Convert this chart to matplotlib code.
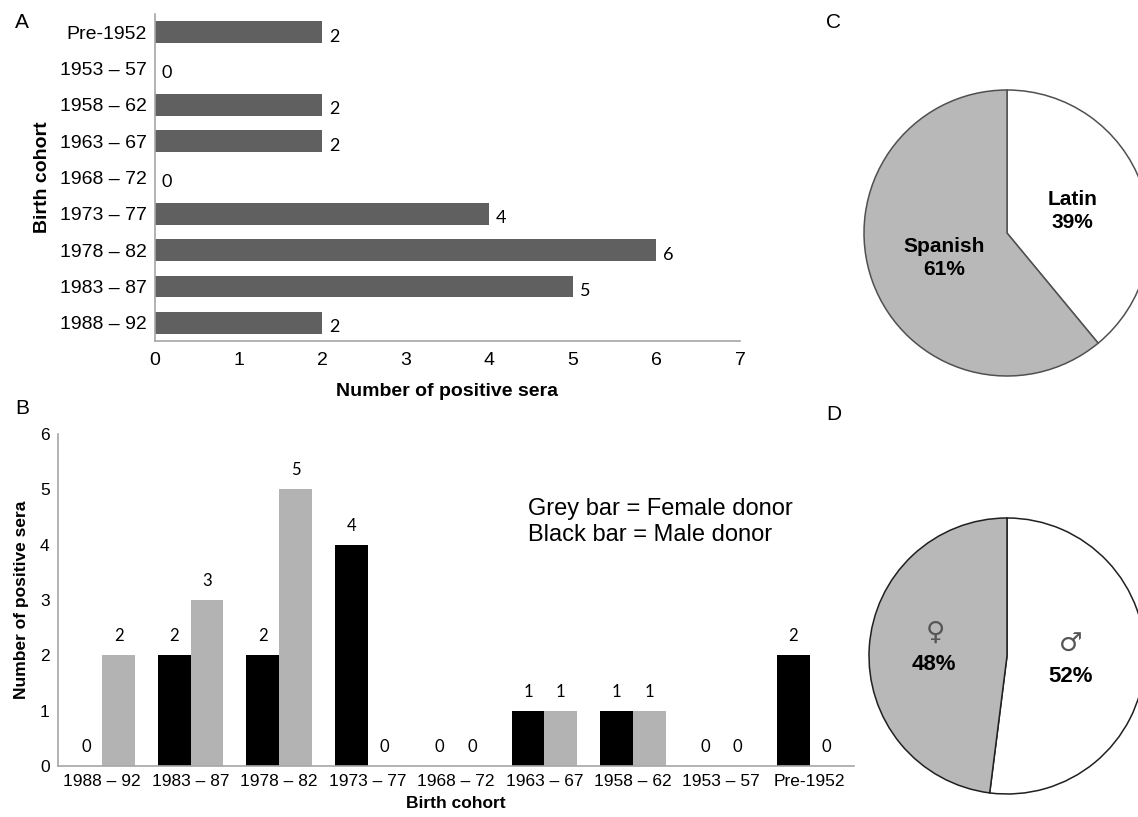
import matplotlib
matplotlib.use('Agg')
import matplotlib.pyplot as plt
import numpy as np

plt.rcParams['font.family'] = ['Liberation Sans', 'DejaVu Sans']

# Panel A data (top to bottom)
cohortes_a = ['Pre-1952', '1953 – 57', '1958 – 62', '1963 – 67', '1968 – 72',
              '1973 – 77', '1978 – 82', '1983 – 87', '1988 – 92']
positivos_a = [2, 0, 2, 2, 0, 4, 6, 5, 2]

# Panel B data (left to right)
cohortes_b = ['1988 – 92', '1983 – 87', '1978 – 82', '1973 – 77', '1968 – 72',
              '1963 – 67', '1958 – 62', '1953 – 57', 'Pre-1952']
hombres = [0, 2, 2, 4, 0, 1, 1, 0, 2]
mujeres = [2, 3, 5, 0, 0, 1, 1, 0, 0]

# Panel C / D data
origen_labels = ['Latin', 'Spanish']
origen_pct = [39, 61]
sexo_simbolos = ['♂', '♀']
sexo_pct = [52, 48]

gris_eje = '#a6a6a6'
W, H = 1138, 817
fig = plt.figure(figsize=(W / 100, H / 100), dpi=100)


def caja(x0, y0, x1, y1):
    # pixel box -> figure fraction
    return [x0 / W, 1 - y1 / H, (x1 - x0) / W, (y1 - y0) / H]


# ---------- A ----------
axA = fig.add_axes(caja(155, 14, 740, 341))
y = np.arange(len(cohortes_a))
axA.barh(y, positivos_a, height=0.6, color='#606060')
axA.set_ylim(len(cohortes_a) - 0.5, -0.5)
axA.set_xlim(0, 7)
axA.set_yticks(y)
axA.set_yticklabels(cohortes_a, fontsize=14)
axA.set_xticks(range(8))
axA.tick_params(axis='both', length=0, labelsize=14)
axA.tick_params(axis='y', pad=6)
axA.tick_params(axis='x', pad=8)
for s in ['top', 'right']:
    axA.spines[s].set_visible(False)
for s in ['left', 'bottom']:
    axA.spines[s].set_color(gris_eje)
    axA.spines[s].set_linewidth(1.2)
for yi, v in zip(y, positivos_a):
    axA.text(v + 0.08, yi + 0.12, str(v), va='center', ha='left', fontsize=13,
             family=['Lato', 'DejaVu Sans'])
axA.set_xlabel('Number of positive sera', fontsize=14, fontweight='bold', labelpad=10)
axA.set_ylabel('Birth cohort', fontsize=14, fontweight='bold', labelpad=6)
fig.text(15 / W, 1 - 22 / H, 'A', fontsize=15, va='center')

# ---------- B ----------
axB = fig.add_axes(caja(58, 434, 854, 766))
x = np.arange(len(cohortes_b))
ancho = 0.37
axB.bar(x - ancho / 2, hombres, width=ancho, color='black')
axB.bar(x + ancho / 2, mujeres, width=ancho, color='#b3b3b3')
axB.set_xlim(-0.5, len(cohortes_b) - 0.5)
axB.set_ylim(0, 6)
axB.set_xticks(x)
axB.set_xticklabels(cohortes_b, fontsize=12.5)
axB.set_yticks(range(7))
axB.tick_params(axis='both', length=0, labelsize=12.5)
axB.tick_params(axis='y', pad=6)
axB.tick_params(axis='x', pad=6)
for s in ['top', 'right']:
    axB.spines[s].set_visible(False)
for s in ['left', 'bottom']:
    axB.spines[s].set_color(gris_eje)
    axB.spines[s].set_linewidth(1.2)
for xi, h, m in zip(x, hombres, mujeres):
    axB.text(xi - ancho / 2, h + 0.2, str(h), ha='center', va='bottom', fontsize=12,
             family=['Lato', 'DejaVu Sans'])
    axB.text(xi + ancho / 2, m + 0.2, str(m), ha='center', va='bottom', fontsize=12,
             family=['Lato', 'DejaVu Sans'])
axB.set_xlabel('Birth cohort', fontsize=12.5, fontweight='bold', labelpad=5)
axB.set_ylabel('Number of positive sera', fontsize=12.5, fontweight='bold', labelpad=8)
axB.text(528 / W, 1 - 522 / H, 'Grey bar = Female donor\nBlack bar = Male donor',
         transform=fig.transFigure, fontsize=17, va='center', ha='left', linespacing=1.2)
fig.text(15 / W, 1 - 408 / H, 'B', fontsize=15, va='center')

# ---------- C ----------
axC = fig.add_axes(caja(864, 90, 1150, 376))
axC.pie(origen_pct, colors=['white', '#b8b8b8'], startangle=90, counterclock=False,
        wedgeprops=dict(edgecolor='#505050', linewidth=1.1))
axC.set_xlim(-1, 1)
axC.set_ylim(-1, 1)
axC.set_aspect('equal')
axC.text(0.455, 0.155, 'Latin\n39%', ha='center', va='center', fontsize=15,
         fontweight='bold', linespacing=1.3)
axC.text(-0.44, -0.175, 'Spanish\n61%', ha='center', va='center', fontsize=15,
         fontweight='bold', linespacing=1.3)
fig.text(826 / W, 1 - 22 / H, 'C', fontsize=15, va='center')

# ---------- D ----------
axD = fig.add_axes(caja(869, 518, 1145, 794))
axD.pie(sexo_pct, colors=['white', '#b8b8b8'], startangle=90, counterclock=False,
        wedgeprops=dict(edgecolor='#202020', linewidth=1.1))
axD.set_xlim(-1, 1)
axD.set_ylim(-1, 1)
axD.set_aspect('equal')
axD.text(0.46, 0.08, sexo_simbolos[0], ha='center', va='center', fontsize=19, color='#555555',
         family=['DejaVu Sans'])
axD.text(0.46, -0.15, f'{sexo_pct[0]}%', ha='center', va='center', fontsize=16, fontweight='bold')
axD.text(-0.52, 0.17, sexo_simbolos[1], ha='center', va='center', fontsize=19, color='#555555',
         family=['DejaVu Sans'])
axD.text(-0.53, -0.065, f'{sexo_pct[1]}%', ha='center', va='center', fontsize=16, fontweight='bold')
fig.text(826 / W, 1 - 415 / H, 'D', fontsize=15, va='center')

fig.savefig('out.png', dpi=100)
